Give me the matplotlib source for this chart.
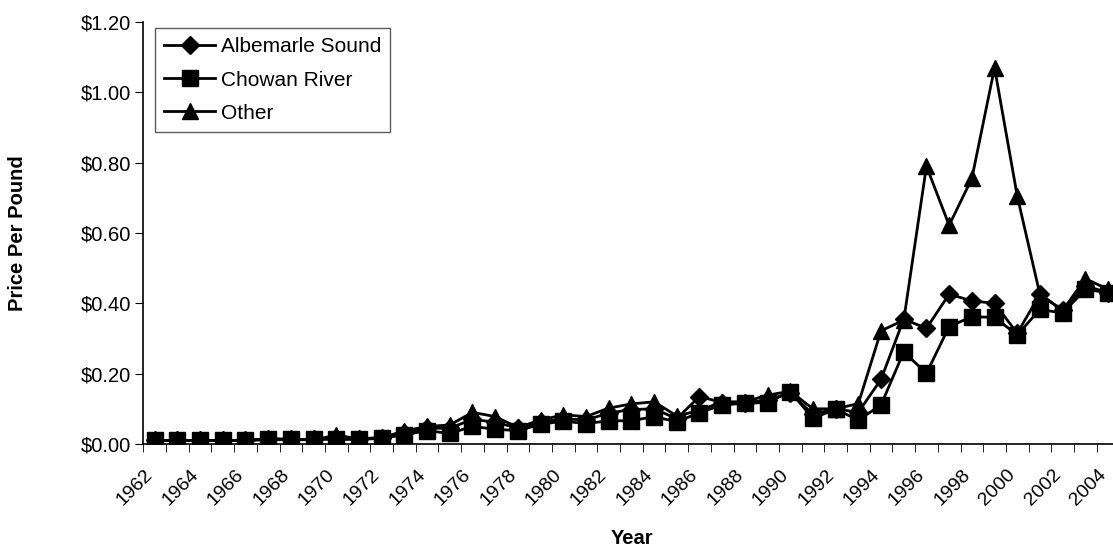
import numpy as np
import matplotlib
matplotlib.use("Agg")
import matplotlib.pyplot as plt
from matplotlib.ticker import FuncFormatter, FixedLocator

plt.rcParams['font.family'] = ['Liberation Sans', 'DejaVu Sans']

years = list(range(1962, 2005))

albemarle = [0.010, 0.010, 0.010, 0.010, 0.010, 0.015, 0.013, 0.013, 0.018, 0.015,
             0.017, 0.030, 0.045, 0.045, 0.070, 0.062, 0.045, 0.062, 0.072, 0.068,
             0.088, 0.098, 0.100, 0.072, 0.135, 0.118, 0.118, 0.125, 0.145, 0.085,
             0.100, 0.090, 0.184, 0.355, 0.329, 0.426, 0.407, 0.400, 0.315, 0.426,
             0.380, 0.450, 0.430]
chowan = [0.010, 0.010, 0.010, 0.010, 0.010, 0.015, 0.013, 0.013, 0.013, 0.013,
          0.016, 0.026, 0.038, 0.030, 0.050, 0.042, 0.038, 0.056, 0.065, 0.058,
          0.066, 0.066, 0.078, 0.063, 0.089, 0.111, 0.116, 0.118, 0.149, 0.073,
          0.099, 0.068, 0.111, 0.262, 0.201, 0.334, 0.362, 0.360, 0.310, 0.383,
          0.372, 0.440, 0.430]
other = [0.010, 0.010, 0.010, 0.010, 0.010, 0.012, 0.012, 0.012, 0.025, 0.015,
         0.018, 0.037, 0.050, 0.054, 0.090, 0.078, 0.047, 0.068, 0.083, 0.078,
         0.102, 0.114, 0.120, 0.080, 0.095, 0.120, 0.120, 0.139, 0.150, 0.100,
         0.100, 0.115, 0.322, 0.352, 0.790, 0.622, 0.755, 1.070, 0.705, 0.425,
         0.380, 0.470, 0.440]

W, H = 1113, 552
fig = plt.figure(figsize=(W / 100, H / 100), dpi=100)
ax = fig.add_axes([143.3 / W, 1 - 444 / H, (1119.4 - 143.3) / W, (444 - 22) / H])

x = np.arange(len(years))
ax.plot(x, albemarle, color='black', lw=2, marker='D', ms=9, label='Albemarle Sound')
ax.plot(x, chowan, color='black', lw=2, marker='s', ms=11, label='Chowan River')
ax.plot(x, other, color='black', lw=2, marker='^', ms=11, label='Other')

ax.set_xlim(-0.5, len(years) - 0.5)
ax.set_ylim(0, 1.2)
ax.set_yticks(np.arange(0, 1.21, 0.2))
ax.yaxis.set_major_formatter(FuncFormatter(lambda v, p: '${:.2f}'.format(v)))

# labels sit a little left of the category centre, like Excel's rotated labels
ax.set_xticks(x[::2] - 0.45)
ax.set_xticklabels([str(y) for y in years[::2]], rotation=45, ha='right',
                   rotation_mode='anchor', fontsize=14)
ax.xaxis.set_minor_locator(FixedLocator(np.arange(-0.5, len(years), 1.0)))
ax.tick_params(axis='x', which='major', length=0, pad=16)
ax.tick_params(axis='x', which='minor', length=6, direction='out', color='black')
ax.tick_params(axis='y', length=6, direction='out', labelsize=14.5, pad=3)

for s in ['top', 'right']:
    ax.spines[s].set_visible(False)
for s in ['left', 'bottom']:
    ax.spines[s].set_linewidth(1.2)

ax.set_ylabel('Price Per Pound', fontsize=14.5, fontweight='bold')
ax.set_xlabel('Year', fontsize=14.5, fontweight='bold')
ax.yaxis.set_label_coords((18 - 143.3) / (1119.4 - 143.3), 0.5)
ax.xaxis.set_label_coords((632 - 143.3) / (1119.4 - 143.3), -(538 - 444) / (444 - 22))
ax.xaxis.label.set_va('center')
ax.yaxis.label.set_va('center')

leg = ax.legend(loc='upper left', bbox_to_anchor=(155 / W, 1 - 28 / H),
                bbox_transform=fig.transFigure, fontsize=15, frameon=True,
                fancybox=False, edgecolor='#333333', handlelength=2.45,
                borderpad=0.45, labelspacing=0.68, handletextpad=0.25,
                borderaxespad=0)
leg.get_frame().set_linewidth(1)

fig.savefig('out.png', dpi=100)
